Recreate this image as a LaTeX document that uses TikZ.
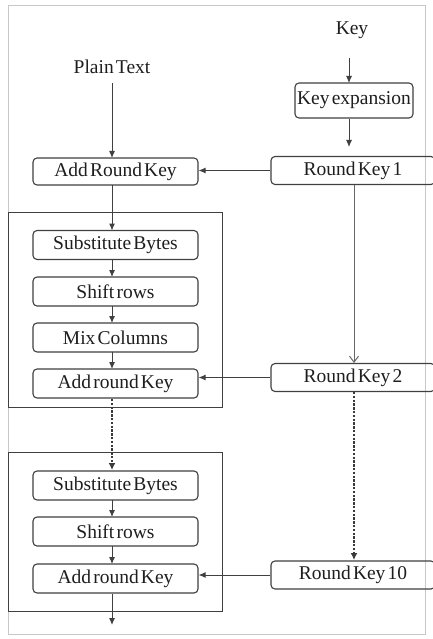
\documentclass[tikz,border=0pt]{standalone}
\usepackage{fontspec}
\setmainfont{Liberation Serif}[WordSpace=0.45]
\usetikzlibrary{arrows.meta,calc}
\definecolor{linec}{HTML}{404040}
\definecolor{framec}{HTML}{C8C8C8}
\definecolor{txtc}{HTML}{1E1E1E}
\tikzset{
  stepbox/.style={draw=linec, line width=1.1pt, rounded corners=4pt, minimum width=165pt, minimum height=29pt, inner sep=0pt, text=txtc, font=\fontsize{19.5}{21}\selectfont},
  keybox/.style={stepbox, minimum width=164pt, minimum height=28pt},
  grpbox/.style={draw=linec, line width=0.9pt, minimum width=214pt, inner sep=0pt},
  lbl/.style={text=txtc, inner sep=0pt, font=\fontsize{19.5}{21}\selectfont},
  arr/.style={draw=linec, line width=1pt, -{Latex[length=7pt,width=6pt]}},
  openarr/.style={draw=linec!80, line width=1pt, -{Straight Barb[length=6pt,width=9pt]}},
  dotarr/.style={draw=linec!90!black, line width=2.6pt, dash pattern=on 2.4pt off 1.4pt, -{Latex[length=7pt,width=7pt]}}
}
\begin{document}
\begin{tikzpicture}[x=1pt,y=-1pt]
\useasboundingbox (0,0) rectangle (433,639);
\clip (0,0) rectangle (433,639);
\fill[white] (0,0) rectangle (433,639);
\draw[framec, line width=0.8pt] (8,5) rectangle (425,634);

% group boxes
\node[grpbox, minimum height=195pt] (g1) at (115,309.5) {};
\node[grpbox, minimum height=159pt] (g2) at (115,531.5) {};

% texts
\node[lbl] (pt) at (112,67) {Plain Text};
\node[lbl] (key) at (352,30) {Key};

% key side
\node[stepbox, minimum width=118pt, minimum height=35pt] (kexp) at (354,100.5) {Key expansion};
\node[keybox] (rk1) at (353,170.5) {Round Key 1};
\node[keybox] (rk2) at (353,377.5) {Round Key 2};
\node[keybox] (rk10) at (353,575) {Round Key 10};

% left column
\node[stepbox, minimum height=27pt] (ark0) at (115.5,171.5) {Add Round Key};
\node[stepbox] (sb1) at (115.5,245) {Substitute Bytes};
\node[stepbox] (sr1) at (115.5,291.5) {Shift rows};
\node[stepbox] (mc1) at (115.5,337.5) {Mix Columns};
\node[stepbox] (ark1) at (115.5,383.5) {Add round Key};
\node[stepbox] (sb2) at (115.5,485.5) {Substitute Bytes};
\node[stepbox] (sr2) at (115.5,531.5) {Shift rows};
\node[stepbox] (ark2) at (115.5,578.5) {Add round Key};
\coordinate (out) at (112,625);

% connectors left
\draw[arr] ($(pt.south)+(0,9)$) -- (112,158);
\draw[arr] (112,185) -- (112,230.5);
\draw[arr] (112,259.5) -- (112,277);
\draw[arr] (112,306) -- (112,323);
\draw[arr] (112,352) -- (112,369);
\draw[dotarr] (112,399) -- (112,470);
\draw[arr] (112,500) -- (112,517);
\draw[arr] (112,546) -- (112,564);
\draw[arr] (ark2.south -| out) -- (out);

% connectors key side
\draw[arr] ($(key.south)+(-3,19)$) -- (349,83);
\draw[arr] (kexp.south -| 349,0) -- (349,147);
\draw[arr] (rk1.west) -- (ark0.east |- rk1.west);
\draw[openarr] (rk1.south -| 354,0) -- (354,363);
\draw[arr] (rk2.west) -- (ark1.east |- rk2.west);
\draw[dotarr] (rk2.south -| 354,0) -- (354,560);
\draw[arr] (rk10.west) -- (ark2.east |- rk10.west);
\end{tikzpicture}
\end{document}
